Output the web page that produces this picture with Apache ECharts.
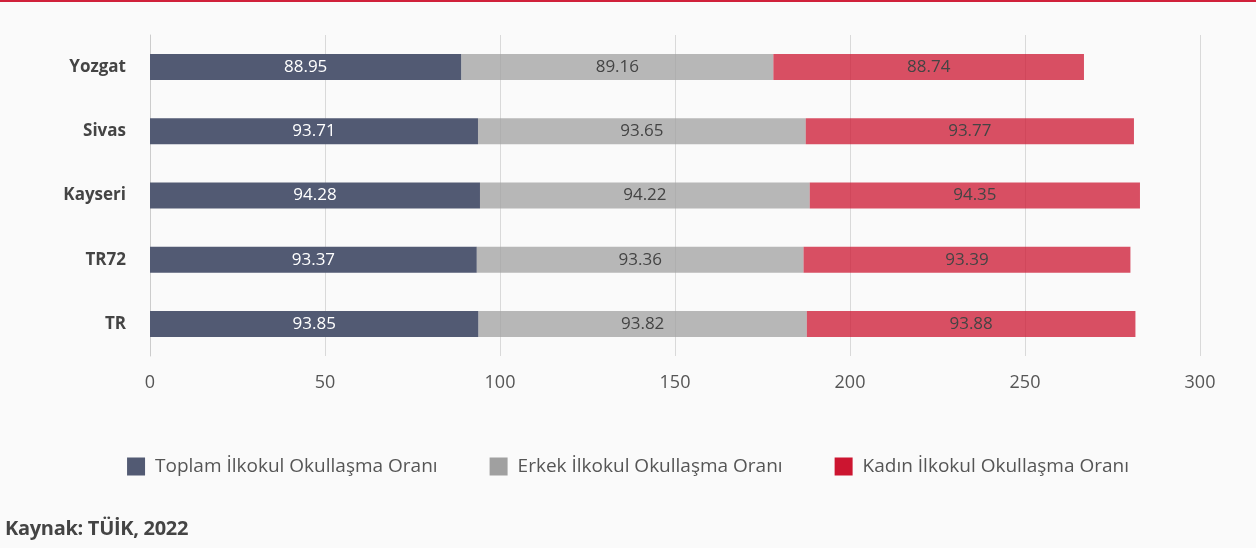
<!DOCTYPE html>
<html>
<head>
<meta charset="utf-8">
<script src="https://cdn.jsdelivr.net/npm/echarts@6/dist/echarts.min.js"></script>
<style>
	html, body { margin:0; padding:0; background:#fafafa; }
	#topline { position:absolute; left:0; top:0; width:1256px; height:2px; background:#d0213a; }
	#chart { width:1256px; height:548px; }
	#source { position:absolute; left:5px; top:514px; font-family:"Open Sans","Roboto",sans-serif; font-weight:bold; font-size:20px; color:#444; letter-spacing:-0.3px; }
</style>
</head>
<body>
<div id="topline"></div>
<div id="chart"></div>
<div id="source">Kaynak: TÜİK, 2022</div>
<script>
var font = '"Open Sans","Roboto",sans-serif';

var categories = ['Yozgat', 'Sivas', 'Kayseri', 'TR72', 'TR'];
var toplam = [88.95, 93.71, 94.28, 93.37, 93.85];
var erkek = [89.16, 93.65, 94.22, 93.36, 93.82];
var kadin = [88.74, 93.77, 94.35, 93.39, 93.88];
var seriesNames = ['Toplam İlkokul Okullaşma Oranı', 'Erkek İlkokul Okullaşma Oranı', 'Kadın İlkokul Okullaşma Oranı'];
var xTicks = [0, 50, 100, 150, 200, 250, 300];

function graphic(){
	var dom = document.getElementById('chart');
	var myChart = echarts.init(dom, null, { renderer: 'canvas' });

	var legendColors = ['#525a73', '#a0a0a0', '#cc1530'];
	var barColors = ['rgba(82,90,115,1)', 'rgba(160,160,160,0.75)', 'rgba(204,21,48,0.75)'];
	var labelColors = ['#ffffff', '#444444', '#444444'];
	var values = [toplam, erkek, kadin];

	var series = values.map(function(v, i){
		return {
			name: seriesNames[i],
			type: 'bar',
			stack: 'all',
			barWidth: 26,
			data: v,
			itemStyle: { color: barColors[i] },
			label: {
				show: true,
				position: 'inside',
				color: labelColors[i],
				fontFamily: font,
				fontSize: 17,
				formatter: function(p){ return p.value.toFixed(2); }
			}
		};
	});

	var option = {
		animation: false,
		textStyle: { fontFamily: font },
		grid: { left: 150, right: 56, top: 35, bottom: 192 },
		legend: {
			top: 452,
			left: 'center',
			itemWidth: 18,
			itemHeight: 18,
			itemGap: 52,
			icon: 'rect',
			textStyle: { fontFamily: font, fontSize: 19, color: '#555', padding: [0, 0, 0, 5] },
			data: seriesNames.map(function(n, i){ return { name: n, itemStyle: { color: legendColors[i] } }; })
		},
		xAxis: {
			type: 'value',
			min: xTicks[0],
			max: xTicks[xTicks.length - 1],
			interval: 50,
			axisLine: { show: false },
			axisTick: { show: false },
			splitLine: { lineStyle: { color: '#d9d9d9' } },
			axisLabel: { color: '#555', fontSize: 18, fontFamily: font, margin: 18 }
		},
		yAxis: {
			type: 'category',
			inverse: true,
			data: categories,
			axisLine: { lineStyle: { color: '#cccccc' } },
			axisTick: { show: false },
			axisLabel: { color: '#444', fontSize: 17, fontWeight: 'bold', fontFamily: font, margin: 24 }
		},
		series: series
	};

	myChart.setOption(option);
	window.addEventListener('resize', myChart.resize);
}
graphic()
</script>
</body>
</html>
